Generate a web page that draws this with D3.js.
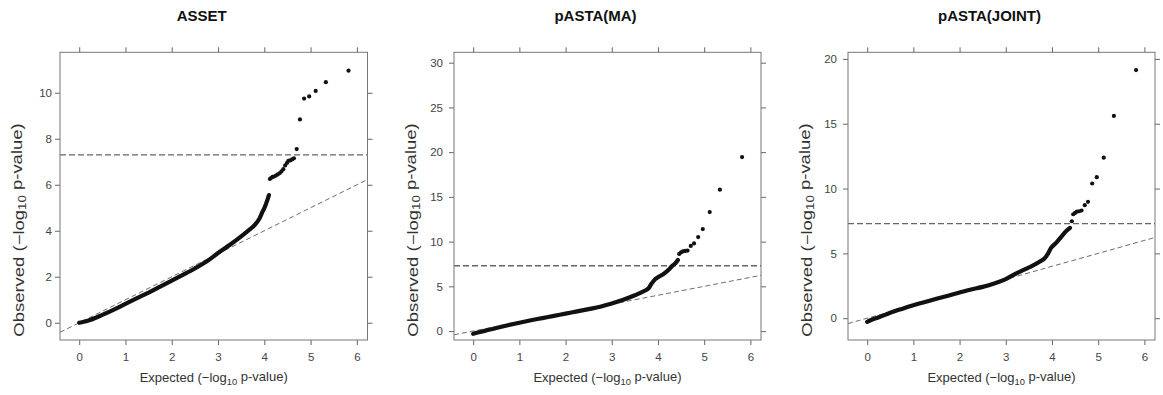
<!DOCTYPE html>
<html>
<head>
<meta charset="utf-8">
<script src="https://cdn.jsdelivr.net/npm/d3@7"></script>
<style>
  body { margin: 0; background: #fff; }
  svg { display: block; }
  text { font-family: "Liberation Sans", Arial, Helvetica, sans-serif; }
</style>
</head>
<body>
<svg id="qq" width="1163" height="395"></svg>
<script>
// panel titles and shared ticks
const titles = ["ASSET", "pASTA(MA)", "pASTA(JOINT)"];
const xTicks = [0, 1, 2, 3, 4, 5, 6];
const assetYTicks = [0, 2, 4, 6, 8, 10];
const maYTicks = [0, 5, 10, 15, 20, 25, 30];
const jointYTicks = [0, 5, 10, 15, 20];
const gwasLevel = 7.3;

// ASSET: dense body of the QQ curve (expected, observed) and the sparse top hits
const assetLineExp = [0, 0.1, 0.25, 0.5, 0.75, 1.0, 1.25, 1.5, 1.75, 2.0, 2.25, 2.5, 2.75, 3.0, 3.25, 3.5, 3.6, 3.7, 3.8, 3.9, 3.95, 4.0, 4.04, 4.08, 4.1];
const assetLineObs = [0, 0.04, 0.13, 0.34, 0.57, 0.82, 1.07, 1.31, 1.57, 1.83, 2.09, 2.36, 2.66, 3.03, 3.38, 3.76, 3.92, 4.08, 4.27, 4.55, 4.78, 4.98, 5.19, 5.42, 5.55];
const assetTopExp = [4.12, 4.15, 4.18, 4.21, 4.25, 4.29, 4.33, 4.37, 4.41, 4.45, 4.49, 4.52, 4.56, 4.6, 4.64, 4.7, 4.77, 4.86, 4.97, 5.11, 5.33, 5.82];
const assetTopObs = [6.25, 6.3, 6.34, 6.36, 6.4, 6.45, 6.5, 6.58, 6.68, 6.84, 6.95, 7.04, 7.06, 7.1, 7.15, 7.55, 8.84, 9.75, 9.84, 10.08, 10.46, 10.96];

// pASTA(MA)
const maLineExp = [0, 0.1, 0.25, 0.5, 0.75, 1.0, 1.25, 1.5, 1.75, 2.0, 2.25, 2.5, 2.75, 3.0, 3.25, 3.5, 3.7, 3.8, 3.86, 3.92, 4.0, 4.12, 4.23, 4.3, 4.38, 4.43];
const maLineObs = [-0.3, -0.17, 0.02, 0.35, 0.65, 0.93, 1.2, 1.45, 1.7, 1.95, 2.2, 2.45, 2.72, 3.08, 3.5, 4.0, 4.48, 4.8, 5.3, 5.7, 6.02, 6.38, 6.85, 7.25, 7.6, 7.94];
const maTopExp = [4.46, 4.5, 4.54, 4.59, 4.64, 4.71, 4.78, 4.87, 4.97, 5.12, 5.34, 5.82];
const maTopObs = [8.62, 8.8, 8.9, 8.96, 9.0, 9.52, 9.8, 10.5, 11.4, 13.3, 15.8, 19.45];

// pASTA(JOINT)
const jointLineExp = [0, 0.1, 0.25, 0.5, 0.75, 1.0, 1.25, 1.5, 1.75, 2.0, 2.25, 2.5, 2.75, 3.0, 3.24, 3.52, 3.74, 3.85, 3.9, 3.98, 4.1, 4.21, 4.32, 4.39];
const jointLineObs = [-0.28, -0.12, 0.07, 0.42, 0.72, 1.0, 1.25, 1.5, 1.74, 1.98, 2.22, 2.42, 2.68, 3.02, 3.48, 3.95, 4.38, 4.65, 4.9, 5.42, 5.85, 6.32, 6.76, 6.97];
const jointTopExp = [4.43, 4.46, 4.5, 4.54, 4.59, 4.64, 4.71, 4.78, 4.87, 4.97, 5.12, 5.34, 5.82];
const jointTopObs = [7.48, 8.02, 8.12, 8.22, 8.25, 8.31, 8.72, 8.98, 10.39, 10.88, 12.38, 15.6, 19.14];

// panel boxes (pixels) and axis ranges
const xDomain = [-0.415, 6.23];
const layout = [
  { left: 60,  top: 52.3, w: 307.5, h: 287.7, yDomain: [-0.75, 11.76], labPad: 3 },
  { left: 454, top: 52.3, w: 307,   h: 287.7, yDomain: [-1.0, 31.16],  labPad: 6 },
  { left: 848, top: 52.3, w: 307,   h: 287.7, yDomain: [-1.68, 20.51], labPad: 6 }
];

const svg = d3.select("#qq");

function axisLabel(sel, word) {
  sel.append("tspan").text(word + " (\u2212log");
  sel.append("tspan").attr("font-size", "0.72em").attr("dy", "0.28em").text("10");
  sel.append("tspan").attr("dy", "-0.28em").text(" p-value)");
}

function drawPanel(i, lineExp, lineObs, topExp, topObs, yTicks) {
  const L = layout[i];
  const g = svg.append("g").attr("transform", `translate(${L.left},${L.top})`);
  const x = d3.scaleLinear().domain(xDomain).range([0, L.w]);
  const y = d3.scaleLinear().domain(L.yDomain).range([L.h, 0]);

  g.append("clipPath").attr("id", "clip" + i)
    .append("rect").attr("width", L.w).attr("height", L.h);
  const plot = g.append("g").attr("clip-path", `url(#clip${i})`);

  // y = x reference
  plot.append("line")
    .attr("x1", x(xDomain[0])).attr("y1", y(xDomain[0]))
    .attr("x2", x(xDomain[1])).attr("y2", y(xDomain[1]))
    .attr("stroke", "#6e6e6e").attr("stroke-width", 1)
    .attr("stroke-dasharray", "5,3");

  // genome-wide significance
  plot.append("line")
    .attr("x1", 0).attr("x2", L.w)
    .attr("y1", y(gwasLevel)).attr("y2", y(gwasLevel))
    .attr("stroke", "#666").attr("stroke-width", 1.3)
    .attr("stroke-dasharray", "6,3");

  const dense = lineExp.map((e, k) => [e, lineObs[k]]);
  plot.append("path")
    .datum(dense)
    .attr("fill", "none")
    .attr("stroke", "#111")
    .attr("stroke-width", 4.2)
    .attr("stroke-linecap", "round")
    .attr("stroke-linejoin", "round")
    .attr("d", d3.line().x(d => x(d[0])).y(d => y(d[1])).curve(d3.curveMonotoneX));

  const top = topExp.map((e, k) => [e, topObs[k]]);
  plot.selectAll("circle.hit")
    .data(top)
    .join("circle")
    .attr("class", "hit")
    .attr("cx", d => x(d[0]))
    .attr("cy", d => y(d[1]))
    .attr("r", 2.1)
    .attr("fill", "#111");

  // axes: labels bottom/left, ticks on all four sides
  const styleAxis = a => {
    a.select(".domain").remove();
    a.selectAll(".tick line").attr("stroke", "#666");
    a.selectAll(".tick text").attr("fill", "#444").attr("font-size", 11.5)
      .attr("font-family", "\"Liberation Sans\", Arial, sans-serif");
  };
  g.append("g").attr("transform", `translate(0,${L.h})`)
    .call(d3.axisBottom(x).tickValues(xTicks).tickSize(5).tickPadding(8).tickFormat(d3.format("d")))
    .call(styleAxis);
  g.append("g")
    .call(d3.axisTop(x).tickValues(xTicks).tickSize(5).tickFormat(""))
    .call(styleAxis);
  g.append("g")
    .call(d3.axisLeft(y).tickValues(yTicks).tickSize(5).tickPadding(L.labPad).tickFormat(d3.format("d")))
    .call(styleAxis);
  g.append("g").attr("transform", `translate(${L.w},0)`)
    .call(d3.axisRight(y).tickValues(yTicks).tickSize(5).tickFormat(""))
    .call(styleAxis);

  g.append("rect")
    .attr("width", L.w).attr("height", L.h)
    .attr("fill", "none").attr("stroke", "#777").attr("stroke-width", 1);

  // title
  svg.append("text")
    .attr("x", L.left + L.w / 2 - 12).attr("y", 21)
    .attr("text-anchor", "middle")
    .attr("font-weight", "bold").attr("font-size", 15)
    .attr("fill", "#111")
    .text(titles[i]);

  // x label
  g.append("text")
    .attr("x", L.w / 2).attr("y", L.h + 42.5)
    .attr("text-anchor", "middle")
    .attr("font-size", 13).attr("fill", "#333")
    .call(axisLabel, "Expected");

  // y label (stretched along its length, as in the source figure)
  g.append("text")
    .attr("transform", `translate(-36.5,${230 - L.top}) rotate(-90) scale(1.32,1)`)
    .attr("text-anchor", "middle")
    .attr("font-size", 14).attr("fill", "#333")
    .call(axisLabel, "Observed");
}

drawPanel(0, assetLineExp, assetLineObs, assetTopExp, assetTopObs, assetYTicks);
drawPanel(1, maLineExp, maLineObs, maTopExp, maTopObs, maYTicks);
drawPanel(2, jointLineExp, jointLineObs, jointTopExp, jointTopObs, jointYTicks);
</script>
</body>
</html>
